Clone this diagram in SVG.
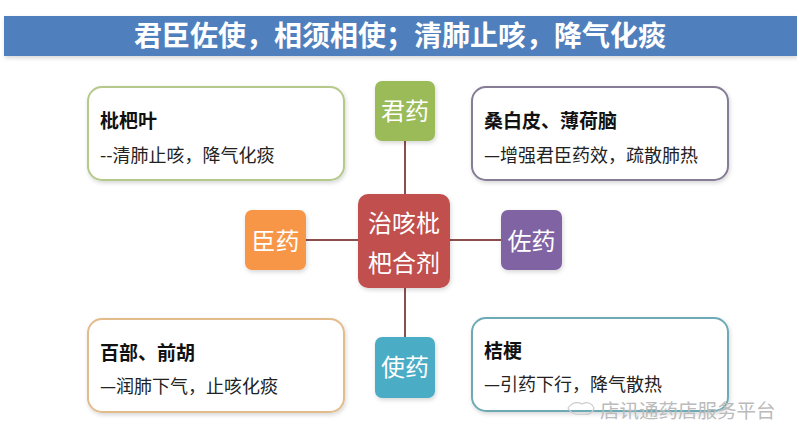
<svg xmlns="http://www.w3.org/2000/svg" width="797" height="446" viewBox="0 0 797 446">
<defs>
<filter id="sh" x="-20%" y="-20%" width="140%" height="140%">
<feDropShadow dx="1" dy="2" stdDeviation="2" flood-color="#000" flood-opacity="0.16"/>
</filter>
<style>
text{font-family:"Noto Sans CJK SC","Noto Sans",sans-serif}
.title{font-size:28px;font-weight:bold;fill:#fff}
.lbl{font-size:24px;fill:#fff}
.hd{font-size:19px;font-weight:bold;fill:#111}
.sub{font-size:18px;fill:#222}
.box{fill:#fff;stroke-width:2}
.conn line{stroke:#8E4E4C;stroke-width:2}
.wm{font-size:19.5px;fill:#bbb}
</style>
</defs>
<rect width="797" height="446" fill="#fff"/>
<g id="title">
<rect x="4" y="16" width="793" height="40" fill="#5080BD" filter="url(#sh)"/>
<text class="title" x="400" y="46" text-anchor="middle">君臣佐使，相须相使；清肺止咳，降气化痰</text>
</g>
<g class="conn" id="connectors">
<line x1="405" y1="141" x2="405" y2="194"/>
<line x1="405" y1="288" x2="405" y2="337"/>
<line x1="306" y1="240" x2="358" y2="240"/>
<line x1="450" y1="240" x2="501" y2="240"/>
</g>
<g id="center">
<rect x="358" y="194" width="92" height="94" rx="10" fill="#C0504D" filter="url(#sh)"/>
<text class="lbl" x="404" y="232" text-anchor="middle">治咳枇</text>
<text class="lbl" x="404" y="272" text-anchor="middle">杷合剂</text>
</g>
<g id="junyao">
<rect x="375" y="81" width="60" height="60" rx="7" fill="#9BBB59" filter="url(#sh)"/>
<text class="lbl" x="405" y="120" text-anchor="middle">君药</text>
</g>
<g id="chenyao">
<rect x="245" y="210" width="61" height="60" rx="7" fill="#F79646" filter="url(#sh)"/>
<text class="lbl" x="275.5" y="250" text-anchor="middle">臣药</text>
</g>
<g id="zuoyao">
<rect x="501" y="210" width="61" height="60" rx="7" fill="#8064A2" filter="url(#sh)"/>
<text class="lbl" x="531.5" y="250" text-anchor="middle">佐药</text>
</g>
<g id="shiyao">
<rect x="375" y="337" width="60" height="61" rx="7" fill="#4BACC6" filter="url(#sh)"/>
<text class="lbl" x="405" y="376" text-anchor="middle">使药</text>
</g>
<g id="pipaye">
<rect class="box" x="88" y="87" width="256" height="93" rx="14" stroke="#B5C98A" filter="url(#sh)"/>
<text class="hd" x="100" y="128">枇杷叶</text>
<text class="sub" x="100" y="162">--清肺止咳，降气化痰</text>
</g>
<g id="sangbaipi">
<rect class="box" x="472" y="87" width="256" height="93" rx="14" stroke="#857B95" filter="url(#sh)"/>
<text class="hd" x="484" y="128">桑白皮、薄荷脑</text>
<text class="sub" x="484" y="162">—增强君臣药效，疏散肺热</text>
</g>
<g id="baibu">
<rect class="box" x="88" y="319" width="256" height="93" rx="14" stroke="#E3BC8C" filter="url(#sh)"/>
<text class="hd" x="100" y="360">百部、前胡</text>
<text class="sub" x="100" y="393">—润肺下气，止咳化痰</text>
</g>
<g id="jiegeng">
<rect class="box" x="472" y="318" width="256" height="93" rx="14" stroke="#6DAAB5" filter="url(#sh)"/>
<text class="hd" x="484" y="358">桔梗</text>
<text class="sub" x="484" y="391">—引药下行，降气散热</text>
</g>
<g id="watermark">
<path d="M568 408 q6 -8 14 -4 q8 -4 12 4 q-2 8 -12 6 q-10 2 -14 -6z" fill="none" stroke="#ccc" stroke-width="1.2"/>
<text class="wm" x="600" y="418">店讯通药店服务平台</text>
</g>
</svg>
